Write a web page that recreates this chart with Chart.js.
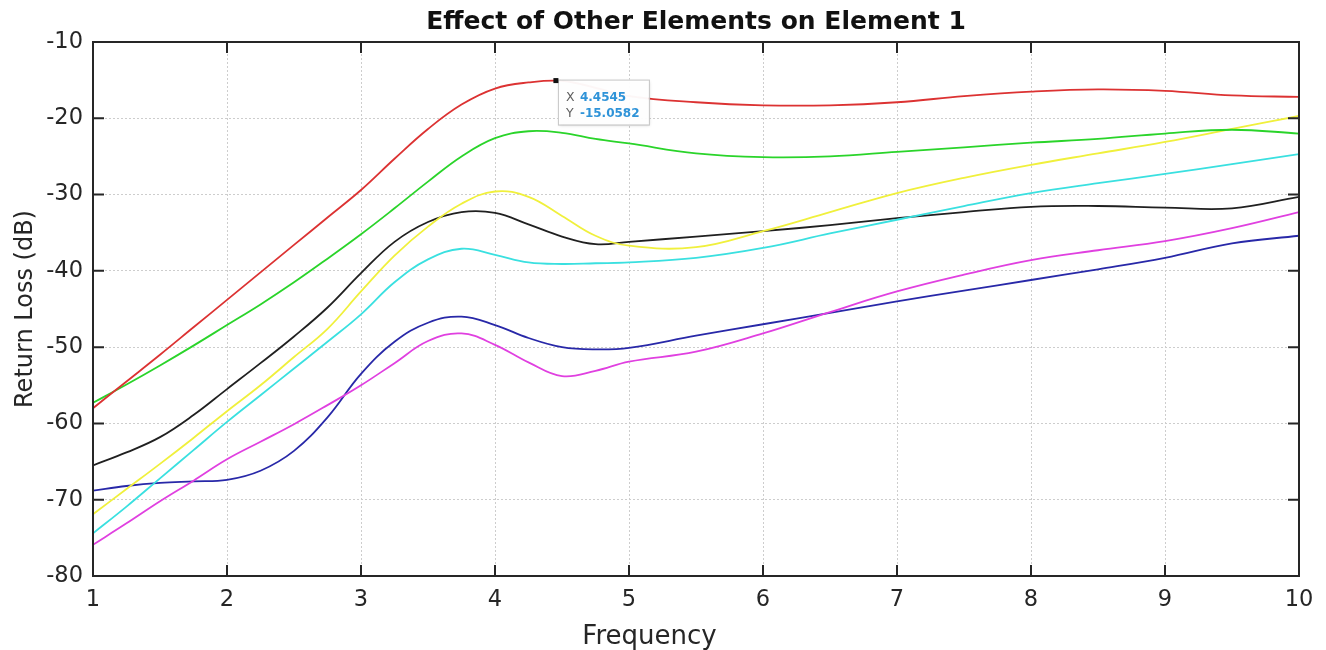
<!DOCTYPE html>
<html>
<head>
<meta charset="utf-8">
<title>Effect of Other Elements on Element 1</title>
<script src="https://cdn.jsdelivr.net/npm/chart.js@4.4.1/dist/chart.umd.min.js"></script>
<style>
  body { margin: 0; background: #fff; }
  #wrap { width: 1326px; height: 650px; }
</style>
</head>
<body>
<div id="wrap"><canvas id="canvas" width="1326" height="650"></canvas></div>
<script>
/* data */
const freq     = [1, 1.25, 1.5, 1.75, 2, 2.25, 2.5, 2.75, 3, 3.25, 3.5, 3.75, 4, 4.25, 4.5, 4.75, 5, 5.5, 6, 6.5, 7, 7.5, 8, 8.5, 9, 9.5, 10];
const redLoss  = [-58, -54.5, -51, -47.4, -43.8, -40.2, -36.6, -33.0, -29.4, -25.3, -21.4, -18.2, -16.1, -15.3, -15.1, -16.0, -17.1, -17.9, -18.3, -18.3, -17.9, -17.1, -16.5, -16.2, -16.4, -17.0, -17.2];
const greenLoss = [-57.3, -54.9, -52.4, -49.8, -47.1, -44.4, -41.5, -38.4, -35.2, -31.8, -28.3, -25.0, -22.6, -21.7, -21.9, -22.7, -23.3, -24.6, -25.1, -25.0, -24.4, -23.8, -23.2, -22.7, -22.0, -21.5, -22.0];
const blackLoss = [-65.5, -63.8, -61.8, -58.9, -55.5, -52.1, -48.6, -44.8, -40.3, -36.2, -33.6, -32.3, -32.4, -33.9, -35.5, -36.5, -36.2, -35.5, -34.8, -34.0, -33.1, -32.3, -31.6, -31.5, -31.7, -31.8, -30.3];
const yellowLoss = [-71.9, -68.6, -65.3, -61.9, -58.4, -55.0, -51.3, -47.6, -42.7, -38.0, -34.2, -31.2, -29.6, -30.3, -32.8, -35.4, -36.7, -36.9, -34.8, -32.3, -29.8, -27.8, -26.1, -24.6, -23.1, -21.4, -19.7];
const cyanLoss = [-74.4, -70.9, -67.2, -63.5, -59.8, -56.3, -52.8, -49.3, -45.7, -41.5, -38.5, -37.1, -37.9, -38.9, -39.1, -39.0, -38.9, -38.3, -37.0, -35.1, -33.3, -31.5, -29.8, -28.5, -27.3, -26.0, -24.7];
const blueLoss = [-68.8, -68.2, -67.8, -67.6, -67.4, -66.2, -63.6, -59.2, -53.5, -49.3, -46.8, -46.0, -47.1, -48.8, -50.0, -50.3, -50.1, -48.5, -47.0, -45.5, -44.0, -42.6, -41.2, -39.8, -38.3, -36.4, -35.4];
const magentaLoss = [-75.9, -73.1, -70.2, -67.5, -64.7, -62.4, -60.1, -57.6, -55.0, -52.1, -49.2, -48.2, -49.7, -52.0, -53.8, -53.1, -51.9, -50.6, -48.2, -45.4, -42.7, -40.5, -38.6, -37.3, -36.1, -34.4, -32.3];

const xTicks = [1, 2, 3, 4, 5, 6, 7, 8, 9, 10];
const yTicks = [-80, -70, -60, -50, -40, -30, -20, -10];

// data tip on the red curve
const tipX = 4.4545;
const tipY = -15.0582;

function pts(ys) {
  return freq.map(function(f, i) { return { x: f, y: ys[i] }; });
}

function line(data, color) {
  return {
    data: pts(data),
    borderColor: color,
    borderWidth: 1.8,
    pointRadius: 0,
    fill: false,
    tension: 0.4
  };
}

/* axes box + inner ticks like matlab */
const boxPlugin = {
  id: 'boxPlugin',
  afterDatasetsDraw(chart) {
    const ctx = chart.ctx;
    const a = chart.chartArea;
    const sx = chart.scales.x, sy = chart.scales.y;
    ctx.save();
    ctx.strokeStyle = '#262626';
    ctx.lineWidth = 2;
    ctx.strokeRect(a.left, a.top, a.right - a.left, a.bottom - a.top);
    ctx.beginPath();
    xTicks.forEach(function(v) {
      const px = sx.getPixelForValue(v);
      ctx.moveTo(px, a.bottom); ctx.lineTo(px, a.bottom - 11);
      ctx.moveTo(px, a.top); ctx.lineTo(px, a.top + 11);
    });
    yTicks.forEach(function(v) {
      const py = sy.getPixelForValue(v);
      ctx.moveTo(a.left, py); ctx.lineTo(a.left + 11, py);
      ctx.moveTo(a.right, py); ctx.lineTo(a.right - 11, py);
    });
    ctx.stroke();
    ctx.restore();
  }
};

/* the datatip box */
const tipPlugin = {
  id: 'tipPlugin',
  afterDraw(chart) {
    const ctx = chart.ctx;
    const px = chart.scales.x.getPixelForValue(tipX);
    const py = chart.scales.y.getPixelForValue(tipY);
    const bx = px + 2, by = py - 1, bw = 91, bh = 45;
    ctx.save();
    ctx.shadowColor = 'rgba(0,0,0,0.18)';
    ctx.shadowBlur = 3;
    ctx.shadowOffsetX = 1;
    ctx.shadowOffsetY = 1;
    ctx.fillStyle = 'rgba(255,255,255,0.96)';
    ctx.fillRect(bx, by, bw, bh);
    ctx.shadowColor = 'transparent';
    ctx.strokeStyle = '#c6c6c6';
    ctx.lineWidth = 1;
    ctx.strokeRect(bx + 0.5, by + 0.5, bw, bh);

    ctx.textBaseline = 'middle';
    ctx.textAlign = 'left';
    ctx.font = '12.5px "DejaVu Sans"';
    ctx.fillStyle = '#5f5f5f';
    ctx.fillText('X', bx + 8, by + 18);
    ctx.fillText('Y', bx + 8, by + 34);
    ctx.font = 'bold 12px "DejaVu Sans"';
    ctx.fillStyle = '#2f93d8';
    ctx.fillText(tipX.toFixed(4), bx + 22, by + 18);
    ctx.fillText(tipY.toFixed(4), bx + 22, by + 34);

    ctx.fillStyle = '#111';
    ctx.fillRect(px - 2.5, py - 2.5, 5, 5);
    ctx.restore();
  }
};

const ctx = document.getElementById('canvas');
new Chart(ctx, {
  type: 'line',
  data: {
    datasets: [
      line(redLoss, '#dc3232'),
      line(greenLoss, '#2ad42a'),
      line(yellowLoss, '#f0f03c'),
      line(cyanLoss, '#3ae0e0'),
      line(blackLoss, '#202020'),
      line(magentaLoss, '#e040e0'),
      line(blueLoss, '#2828a8')
    ]
  },
  options: {
    responsive: false,
    animation: false,
    devicePixelRatio: 1,
    layout: { padding: { left: 0, right: 27, top: 0, bottom: 0 } },
    plugins: {
      legend: { display: false },
      tooltip: { enabled: false },
      title: {
        display: true,
        text: 'Effect of Other Elements on Element 1',
        fullSize: false,
        color: '#111',
        font: { family: 'DejaVu Sans', size: 25, weight: 'bold', lineHeight: 1.2 },
        padding: { top: 7.5, bottom: 4.5 }
      },
      subtitle: {
        display: true,
        position: 'bottom',
        text: 'Frequency',
        color: '#262626',
        font: { family: 'DejaVu Sans', size: 26, lineHeight: 1.0 },
        padding: { top: 0, bottom: 0 }
      }
    },
    scales: {
      x: {
        type: 'linear',
        min: 1,
        max: 10,
        afterFit: function(scale) { scale.height = 48; },
        afterBuildTicks: function(scale) { scale.ticks = xTicks.map(function(v) { return { value: v }; }); },
        ticks: {
          color: '#262626',
          padding: 11,
          maxRotation: 0,
          font: { family: 'DejaVu Sans', size: 22.5 }
        },
        grid: { color: '#cdcdcd', lineWidth: 1, drawTicks: false },
        border: { display: false, dash: [2, 2] }
      },
      y: {
        type: 'linear',
        min: -80,
        max: -10,
        afterFit: function(scale) { scale.width = 93; },
        afterBuildTicks: function(scale) { scale.ticks = yTicks.map(function(v) { return { value: v }; }); },
        ticks: {
          color: '#262626',
          padding: 10,
          font: { family: 'DejaVu Sans', size: 22.5 }
        },
        title: {
          display: true,
          text: 'Return Loss (dB)',
          color: '#262626',
          font: { family: 'DejaVu Sans', size: 24, lineHeight: 1.2 },
          padding: { top: 11.6, bottom: 0 }
        },
        grid: { color: '#cdcdcd', lineWidth: 1, drawTicks: false },
        border: { display: false, dash: [2, 2] }
      }
    }
  },
  plugins: [boxPlugin, tipPlugin]
});
</script>
</body>
</html>
